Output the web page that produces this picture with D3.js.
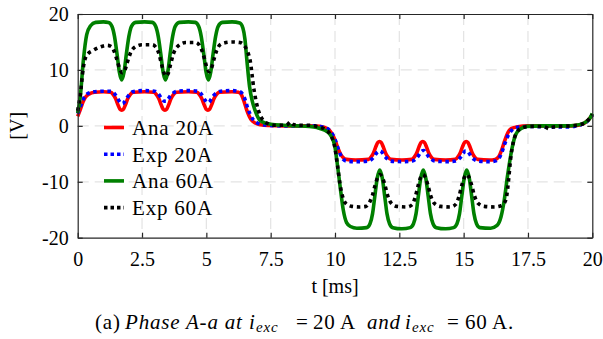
<!DOCTYPE html>
<html>
<head>
<meta charset="utf-8">
<script src="https://cdn.jsdelivr.net/npm/d3@7"></script>
<style>
  body { margin: 0; background: #fff; }
  svg text { font-family: "Liberation Serif", "Times New Roman", serif; fill: #000; }
</style>
</head>
<body>
<svg id="chart" width="603" height="339"></svg>
<script>
// data: [t in ms, voltage in V]
const ana20 = [[0,1.7],[0.1,2.9],[0.2,4.2],[0.3,5.1],[0.45,5.7],[0.65,6.0],[1.0,6.1],[1.28,6.0],[1.38,5.6],[1.48,4.8],[1.57,3.7],[1.64,3.0],[1.71,2.8],[1.78,3.0],[1.85,3.7],[1.94,4.8],[2.04,5.6],[2.16,6.0],[2.6,6.1],[2.96,6.0],[3.06,5.6],[3.16,4.8],[3.25,3.7],[3.32,3.0],[3.39,2.8],[3.46,3.0],[3.53,3.7],[3.62,4.8],[3.72,5.6],[3.84,6.0],[4.3,6.1],[4.63,6.0],[4.73,5.6],[4.83,4.8],[4.92,3.7],[4.99,3.0],[5.06,2.8],[5.13,3.0],[5.2,3.7],[5.29,4.8],[5.39,5.6],[5.51,6.0],[6.0,6.1],[6.25,6.0],[6.37,5.5],[6.47,4.3],[6.57,2.8],[6.67,1.7],[6.76,1.0],[6.9,0.5],[7.1,0.2],[7.4,0.05],[8.0,0],[9.0,0],[9.4,-0.1],[9.7,-0.5],[9.87,-1.3],[10.0,-2.5],[10.1,-3.8],[10.2,-4.9],[10.3,-5.6],[10.45,-6.0],[10.8,-6.1],[11.3,-6.0],[11.4,-5.6],[11.5,-4.8],[11.59,-3.7],[11.66,-3.0],[11.73,-2.8],[11.8,-3.0],[11.87,-3.7],[11.96,-4.8],[12.06,-5.6],[12.18,-6.0],[12.6,-6.1],[12.98,-6.0],[13.08,-5.6],[13.18,-4.8],[13.27,-3.7],[13.34,-3.0],[13.41,-2.8],[13.48,-3.0],[13.55,-3.7],[13.64,-4.8],[13.74,-5.6],[13.86,-6.0],[14.3,-6.1],[14.67,-6.0],[14.77,-5.6],[14.87,-4.8],[14.96,-3.7],[15.03,-3.0],[15.1,-2.8],[15.17,-3.0],[15.24,-3.7],[15.33,-4.8],[15.43,-5.6],[15.55,-6.0],[16.0,-6.1],[16.22,-6.0],[16.35,-5.6],[16.48,-4.3],[16.6,-2.6],[16.72,-1.2],[16.85,-0.5],[17.1,-0.15],[17.5,0],[18.5,0],[19.2,0],[19.5,0.15],[19.7,0.5],[19.85,1.1],[20,1.9]];

const exp20 = [[0,2.2],[0.1,3.4],[0.2,4.6],[0.3,5.4],[0.45,5.9],[0.65,6.1],[1.0,6.2],[1.28,6.2],[1.4,5.9],[1.5,5.3],[1.59,4.6],[1.67,4.1],[1.74,4.0],[1.82,4.3],[1.91,5.0],[2.01,5.6],[2.14,6.1],[2.6,6.3],[2.98,6.2],[3.1,5.9],[3.2,5.3],[3.29,4.7],[3.37,4.4],[3.44,4.4],[3.52,4.8],[3.61,5.4],[3.72,5.9],[3.88,6.2],[4.3,6.3],[4.65,6.2],[4.76,5.9],[4.86,5.3],[4.95,4.6],[5.03,4.2],[5.1,4.2],[5.18,4.7],[5.28,5.4],[5.4,5.9],[5.56,6.2],[6.0,6.3],[6.3,6.1],[6.42,5.6],[6.52,4.5],[6.62,3.0],[6.72,1.9],[6.82,1.1],[6.95,0.6],[7.15,0.25],[7.5,0.05],[8.0,0],[9.0,0],[9.4,-0.1],[9.7,-0.5],[9.87,-1.3],[10.0,-2.4],[10.1,-3.8],[10.2,-5.0],[10.3,-5.9],[10.45,-6.3],[10.8,-6.4],[11.3,-6.3],[11.42,-6.0],[11.52,-5.5],[11.61,-4.9],[11.69,-4.6],[11.76,-4.5],[11.84,-4.8],[11.93,-5.4],[12.03,-5.9],[12.16,-6.3],[12.6,-6.4],[13.0,-6.3],[13.12,-6.0],[13.22,-5.5],[13.31,-4.9],[13.38,-4.5],[13.45,-4.4],[13.53,-4.8],[13.62,-5.4],[13.73,-5.9],[13.88,-6.3],[14.3,-6.4],[14.68,-6.3],[14.8,-6.0],[14.9,-5.5],[14.99,-4.9],[15.06,-4.5],[15.13,-4.5],[15.21,-4.9],[15.3,-5.5],[15.41,-6.0],[15.56,-6.3],[16.0,-6.4],[16.22,-6.3],[16.36,-5.9],[16.48,-4.8],[16.6,-3.2],[16.72,-1.8],[16.85,-0.9],[17.0,-0.4],[17.3,-0.15],[17.7,-0.1],[18.3,-0.2],[18.9,-0.2],[19.3,-0.1],[19.55,0.2],[19.75,0.6],[19.88,1.2],[20,2.0]];

const ana60 = [[0,2.3],[0.1,5.2],[0.22,11.7],[0.35,16.3],[0.5,17.9],[0.7,18.5],[1.0,18.6],[1.2,18.5],[1.33,17.8],[1.43,16.0],[1.53,12.8],[1.62,9.6],[1.71,8.2],[1.8,9.6],[1.89,12.8],[1.99,16.0],[2.09,17.8],[2.25,18.5],[2.6,18.6],[2.9,18.5],[3.03,17.8],[3.13,16.0],[3.23,12.8],[3.32,9.6],[3.41,8.2],[3.5,9.6],[3.59,12.8],[3.69,16.0],[3.79,17.8],[3.95,18.5],[4.3,18.6],[4.57,18.5],[4.7,17.8],[4.8,16.0],[4.9,12.8],[4.99,9.6],[5.08,8.2],[5.17,9.6],[5.26,12.8],[5.36,16.0],[5.46,17.8],[5.62,18.5],[6.0,18.6],[6.3,18.4],[6.42,17.5],[6.5,15.5],[6.57,12.0],[6.68,7.0],[6.78,4.5],[6.89,2.8],[7.08,1.0],[7.3,0.5],[7.5,0.3],[8.0,0.1],[8.5,0],[9.0,-0.1],[9.3,-0.3],[9.6,-0.8],[9.8,-1.5],[9.93,-2.6],[10.0,-3.8],[10.07,-6.1],[10.2,-10.9],[10.32,-15.0],[10.45,-17.3],[10.6,-18.0],[10.85,-18.3],[11.23,-18.2],[11.36,-17.5],[11.46,-15.7],[11.55,-12.5],[11.64,-9.4],[11.74,-7.9],[11.84,-9.4],[11.93,-12.5],[12.02,-15.7],[12.12,-17.5],[12.25,-18.2],[12.6,-18.4],[12.92,-18.2],[13.05,-17.5],[13.15,-15.7],[13.24,-12.5],[13.33,-9.4],[13.43,-7.9],[13.53,-9.4],[13.62,-12.5],[13.71,-15.7],[13.81,-17.5],[13.94,-18.2],[14.3,-18.4],[14.61,-18.2],[14.74,-17.5],[14.84,-15.7],[14.93,-12.5],[15.02,-9.4],[15.12,-7.9],[15.22,-9.4],[15.31,-12.5],[15.4,-15.7],[15.5,-17.5],[15.63,-18.2],[16.05,-18.3],[16.3,-17.8],[16.45,-16.3],[16.58,-13.2],[16.7,-9.1],[16.8,-6.1],[16.9,-3.6],[17.02,-1.6],[17.2,-0.6],[17.46,-0.1],[18.0,0],[19.0,0],[19.35,0.1],[19.6,0.35],[19.78,0.8],[19.9,1.3],[20,2.2]];

const exp60 = [[0,2.7],[0.1,5.5],[0.22,10.5],[0.35,12.6],[0.6,13.5],[0.87,14.1],[1.15,14.4],[1.3,14.2],[1.42,13.3],[1.54,11.6],[1.64,10.1],[1.73,9.5],[1.82,9.8],[1.92,11.2],[2.04,12.9],[2.2,14.0],[2.5,14.5],[2.9,14.5],[3.03,14.1],[3.15,13.0],[3.26,11.0],[3.35,9.5],[3.43,8.9],[3.51,9.3],[3.61,11.0],[3.72,12.9],[3.88,14.2],[4.2,14.9],[4.6,14.9],[4.73,14.4],[4.85,13.2],[4.96,11.4],[5.04,10.1],[5.11,9.7],[5.19,10.2],[5.29,11.8],[5.41,13.6],[5.6,14.7],[6.0,15.0],[6.3,14.9],[6.45,14.5],[6.58,13.5],[6.7,11.7],[6.85,6.5],[7.02,2.8],[7.15,1.4],[7.28,0.7],[7.45,0.3],[7.7,0.1],[8.05,0.1],[8.17,0.3],[8.26,0.7],[8.35,0.3],[8.6,0.1],[9.0,0.1],[9.3,-0.1],[9.6,-0.6],[9.85,-1.8],[10.0,-4.0],[10.1,-7.2],[10.2,-10.6],[10.32,-13.0],[10.45,-14.0],[10.65,-14.4],[10.95,-14.5],[11.2,-14.4],[11.33,-13.8],[11.45,-12.5],[11.56,-10.6],[11.66,-9.2],[11.75,-8.7],[11.84,-9.2],[11.94,-10.6],[12.05,-12.5],[12.18,-13.8],[12.4,-14.4],[12.8,-14.5],[13.0,-14.1],[13.12,-12.7],[13.23,-10.7],[13.33,-9.2],[13.42,-8.7],[13.51,-9.2],[13.61,-10.6],[13.72,-12.5],[13.85,-13.8],[14.1,-14.4],[14.5,-14.5],[14.7,-14.0],[14.82,-12.6],[14.93,-10.6],[15.03,-9.2],[15.12,-8.7],[15.21,-9.2],[15.31,-10.6],[15.42,-12.5],[15.55,-13.8],[15.8,-14.4],[16.2,-14.5],[16.45,-14.3],[16.58,-13.8],[16.67,-12.6],[16.75,-9.5],[16.82,-6.1],[16.93,-2.9],[17.05,-1.3],[17.2,-0.5],[17.5,-0.15],[17.8,-0.1],[18.1,-0.15],[18.22,-0.3],[18.3,-0.5],[18.4,-0.3],[18.7,-0.1],[19.2,0],[19.5,0.2],[19.7,0.5],[19.85,1.1],[20,2.0]];

const seriesNames = ["Ana 20A", "Exp 20A", "Ana 60A", "Exp 60A"];
const xTicks = [0, 2.5, 5, 7.5, 10, 12.5, 15, 17.5, 20];
const xTickLabels = ["0", "2.5", "5", "7.5", "10", "12.5", "15", "17.5", "20"];
const yTicks = [-20, -10, 0, 10, 20];
const yTickLabels = ["-20", "-10", "0", "10", "20"];

const serif = "'Liberation Serif', 'Times New Roman', serif";

const margin = { top: 14, right: 10.7, bottom: 101.3, left: 77.7 },
  width = 603 - margin.left - margin.right,
  height = 339 - margin.top - margin.bottom;

const svg = d3.select("#chart");
const g = svg.append("g").attr("transform", `translate(${margin.left},${margin.top})`);

const x = d3.scaleLinear().domain([0, 20]).range([0, width]);
const y = d3.scaleLinear().domain([-20, 20]).range([height, 0]);

// dashed grid
const grid = g.append("g").attr("stroke", "#e3e3e3").attr("stroke-width", 1.2).attr("stroke-dasharray", "11,6");
grid.selectAll(".gx").data(xTicks.slice(1, -1)).join("line")
  .attr("x1", d => x(d)).attr("x2", d => x(d)).attr("y1", 0).attr("y2", height);
grid.selectAll(".gy").data(yTicks.slice(1, -1)).join("line")
  .attr("y1", d => y(d)).attr("y2", d => y(d)).attr("x1", 0).attr("x2", width);

// curves
const line = d3.line().x(d => x(d[0])).y(d => y(d[1])).curve(d3.curveMonotoneX);
const styles = [
  { data: ana20, color: "#ff0000", dash: null },
  { data: exp20, color: "#0000ff", dash: "3.5,3.6" },
  { data: ana60, color: "#008000", dash: null },
  { data: exp60, color: "#000000", dash: "3.5,3.8" },
];
styles.forEach(s => {
  g.append("path")
    .datum(s.data)
    .attr("fill", "none")
    .attr("stroke", s.color)
    .attr("stroke-width", 3.6)
    .attr("stroke-dasharray", s.dash)
    .attr("d", line);
});

// axes box with inward ticks
const axisStyle = sel => {
  sel.attr("font-family", null);
  sel.select(".domain").attr("stroke", "#262626").attr("stroke-width", 1.2);
  sel.selectAll(".tick line").attr("stroke", "#262626").attr("stroke-width", 1.2);
  sel.selectAll("text").attr("fill", "#000").style("font-family", serif).style("font-size", "20px");
};
g.append("g").attr("transform", `translate(0,${height})`)
  .call(d3.axisBottom(x).tickValues(xTicks).tickFormat((d, i) => xTickLabels[i]).tickSize(-5).tickSizeOuter(0).tickPadding(14))
  .call(axisStyle);
g.append("g")
  .call(d3.axisLeft(y).tickValues(yTicks).tickFormat((d, i) => yTickLabels[i]).tickSize(-5).tickSizeOuter(0).tickPadding(9))
  .call(axisStyle);
g.append("g")
  .call(d3.axisTop(x).tickValues(xTicks).tickFormat("").tickSize(-5).tickSizeOuter(0))
  .call(axisStyle);
g.append("g").attr("transform", `translate(${width},0)`)
  .call(d3.axisRight(y).tickValues(yTicks).tickFormat("").tickSize(-5).tickSizeOuter(0))
  .call(axisStyle);

// legend
const legend = svg.append("g").attr("transform", "translate(104,127.5)");
styles.forEach((s, i) => {
  const row = legend.append("g").attr("transform", `translate(0,${i * 26.7})`);
  row.append("line")
    .attr("x1", 0).attr("x2", 20)
    .attr("stroke", s.color).attr("stroke-width", 3.6)
    .attr("stroke-dasharray", s.dash ? "3.5,3" : null);
  row.append("text")
    .attr("x", 28).attr("y", 7.5)
    .style("font-family", serif).style("font-size", "21px").style("letter-spacing", "0.8px")
    .text(seriesNames[i]);
});

// axis labels
svg.append("text")
  .attr("transform", `translate(24,${margin.top + height / 2}) rotate(-90)`)
  .attr("text-anchor", "middle")
  .style("font-family", serif).style("font-size", "20px")
  .text("[V]");
svg.append("text")
  .attr("x", margin.left + width / 2)
  .attr("y", 293)
  .attr("text-anchor", "middle")
  .style("font-family", serif).style("font-size", "20px")
  .text("t [ms]");

// caption, pieces placed like the LaTeX spacing
const capParts = [
  { t: "(a)", x: 95 },
  { t: "Phase A-a at", x: 125, it: true },
  { t: "i", x: 249, it: true },
  { t: "exc", x: 256, it: true, sub: true },
  { t: "=", x: 296 },
  { t: "20", x: 313 },
  { t: "A", x: 340 },
  { t: "and", x: 367, it: true },
  { t: "i", x: 405, it: true },
  { t: "exc", x: 412, it: true, sub: true },
  { t: "=", x: 447 },
  { t: "60", x: 465 },
  { t: "A.", x: 492 },
];
svg.append("g").selectAll("text").data(capParts).join("text")
  .attr("x", d => d.x)
  .attr("y", d => (d.sub ? 332 : 328.5))
  .style("font-family", serif)
  .style("font-size", d => (d.sub ? "15px" : "21px"))
  .style("letter-spacing", "0.8px")
  .style("font-style", d => (d.it ? "italic" : "normal"))
  .text(d => d.t);
</script>
</body>
</html>
